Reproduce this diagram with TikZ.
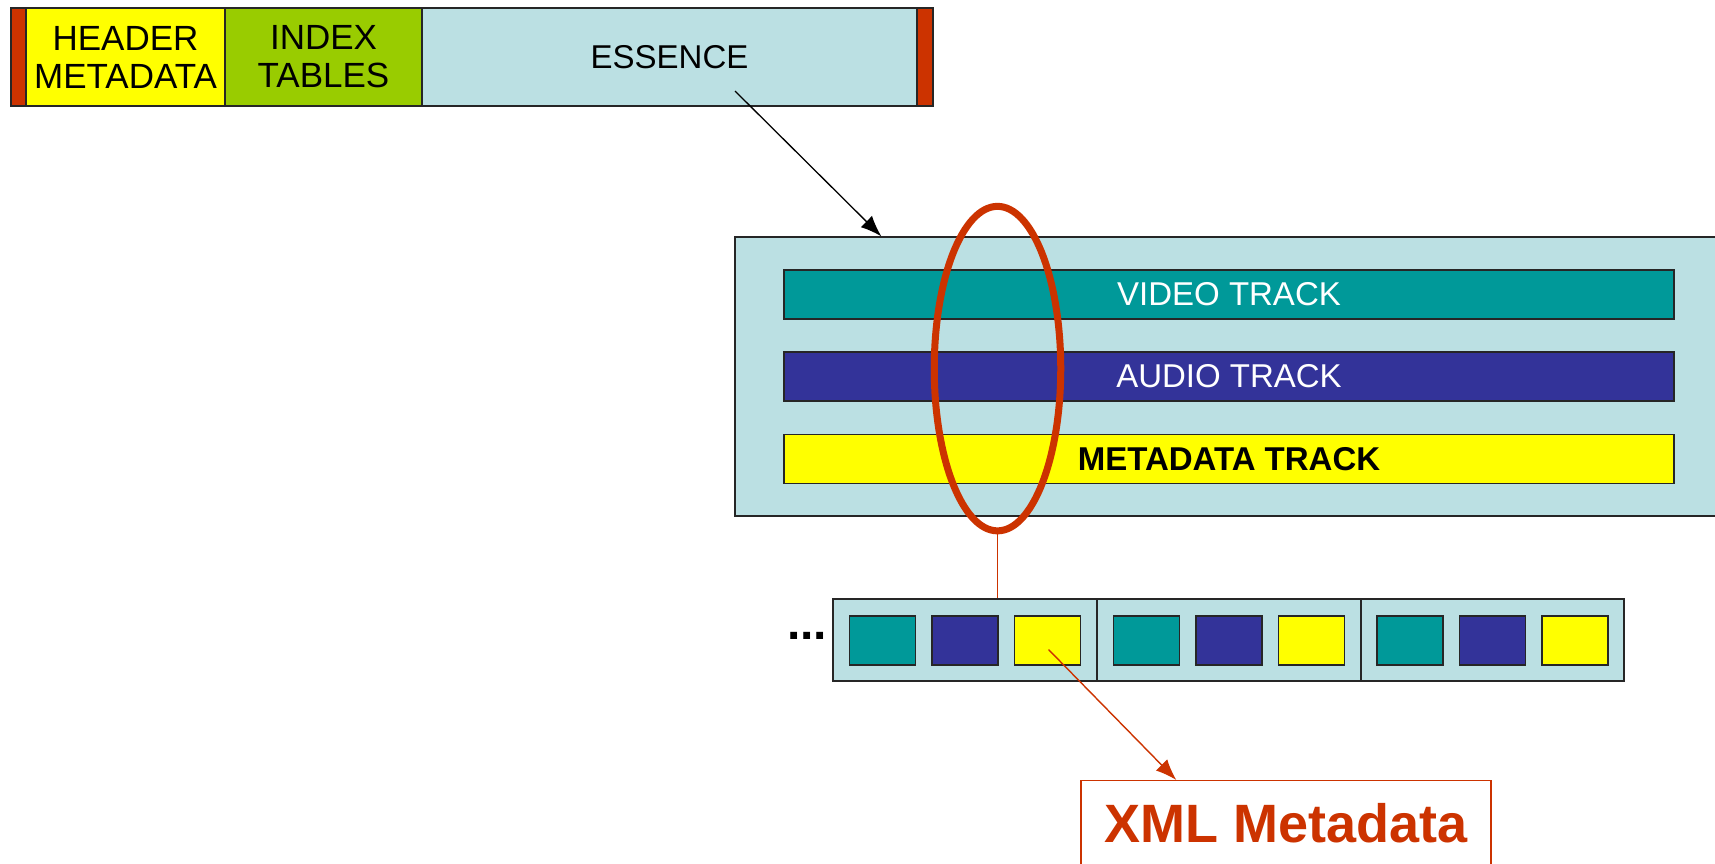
\documentclass[tikz,border=0pt]{standalone}
\usepackage{fontspec}
\setmainfont{Liberation Sans}
\usetikzlibrary{shapes.geometric,arrows.meta,calc}
\definecolor{lblue}{RGB}{187,224,227}
\definecolor{vteal}{RGB}{0,153,153}
\definecolor{anavy}{RGB}{51,51,153}
\definecolor{myel}{RGB}{255,255,0}
\definecolor{mgreen}{RGB}{153,204,0}
\definecolor{mred}{RGB}{204,51,0}
\begin{document}
\begin{tikzpicture}[x=1pt,y=-1pt,
  box/.style={draw=black!85, line width=1.3pt, rectangle, inner sep=0pt, align=center,
    font=\fontsize{33}{38}\selectfont},
  topbox/.style={box, minimum height=98, font=\fontsize{35}{38}\selectfont},
  redbar/.style={box, fill=mred},
  track/.style={box, minimum width=890, minimum height=49},
  sq/.style={draw=black!85, line width=1.3pt, rectangle, inner sep=0pt,
    minimum width=66, minimum height=49},
  cell/.style={box, fill=lblue, minimum width=264, minimum height=82},
  redline/.style={draw=mred, line width=1.4pt},
  bigtip/.style={-{Latex[length=21pt,width=16pt]}}
]
\useasboundingbox (0,0) rectangle (1715,863);
\clip (0,0) rectangle (1715,863);
\fill[white] (0,0) rectangle (1715,863);

% top bar
\node[redbar, minimum width=15, minimum height=98] (redL) at (18.5,57) {};
\node[topbox, fill=myel, minimum width=199] (header) at (125.5,57) {HEADER\\METADATA};
\node[topbox, fill=mgreen, minimum width=197] (index) at (323.5,57) {INDEX\\TABLES};
\node[topbox, fill=lblue, minimum width=495, font=\fontsize{33}{38}\selectfont] (essence) at (669.5,57) {ESSENCE};
\node[redbar, minimum width=16, minimum height=98] (redR) at (925,57) {};

% big essence box
\node[box, fill=lblue, minimum width=990, minimum height=279] (big) at (1230,376.5) {};
\node[track, fill=vteal, text=white] (video) at (1229,294.5) {VIDEO TRACK};
\node[track, fill=anavy, text=white] (audio) at (1229,376.5) {AUDIO TRACK};
\node[track, fill=myel, font=\fontsize{33}{38}\selectfont\bfseries] (meta) at (1229,459) {METADATA TRACK};

\coordinate (a1) at (735,91);
\draw[line width=1.3pt, bigtip] (a1) -- ($(big.north west)+(147,0)$);

% ellipse
\node[ellipse, draw=mred, line width=7pt, minimum width=126.5, minimum height=324.5, inner sep=0pt] (ell) at (997.5,368.6) {};

% strip
\node[cell] (c1) at (965,640) {};
\node[cell] (c2) at (1229,640) {};
\node[cell, minimum width=263] (c3) at (1492.5,640) {};
\foreach \c in {1,2,3}{
  \node[sq, fill=vteal] (s\c a) at ($(c\c.center)+(-82.5,0.5)$) {};
  \node[sq, fill=anavy] (s\c b) at ($(c\c.center)+(0,0.5)$) {};
  \node[sq, fill=myel] (s\c c) at ($(c\c.center)+(82.5,0.5)$) {};
}
\node[inner sep=0pt, font=\fontsize{48}{56}\selectfont\bfseries] (dots) at (807,636) {...};

\draw[redline] (ell.south) -- (ell.south |- c1.north);

% XML metadata
\node[draw=mred, line width=1.4pt, rectangle, minimum width=410, minimum height=120, inner sep=0pt, anchor=north] (xmlbox) at (1286,780) {};
\node[inner sep=0pt, anchor=base, text=mred, font=\fontsize{54}{60}\selectfont\bfseries] (xml) at (1286,842) {XML Metadata};
\draw[redline, bigtip] ($(s1c.center)+(1,9)$) -- ($(xmlbox.north west)+(96,0)$);
\end{tikzpicture}
\end{document}
